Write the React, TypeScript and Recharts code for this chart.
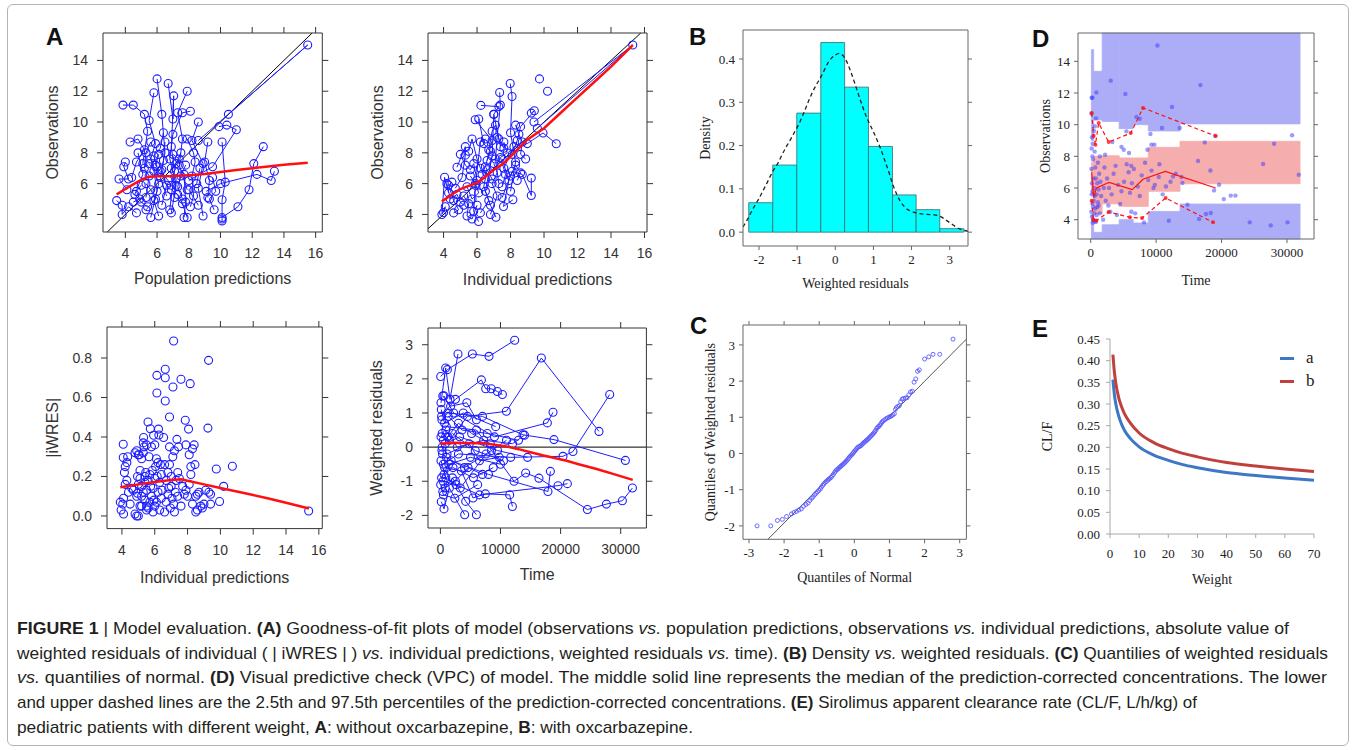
import React from 'react';
import { ComposedChart, Scatter, Line, XAxis, YAxis, ReferenceLine, ReferenceArea } from 'recharts';

const SANS = '"Liberation Sans", Arial, Helvetica, sans-serif';
const SERIF = '"Liberation Serif", "Times New Roman", serif';
const BLUE = '#1c1cff';
const RED = '#ff1010';

// ---------- A (top-left): observations vs population predictions, one polyline per subject
const predObsSubjects: number[][][] = [
  [[8.6, 8.8], [15.5, 15.0], [10.5, 10.5]],
  [[6.0, 12.8], [6.3, 10.5], [6.5, 8.0], [6.2, 6.4], [6.6, 5.2]],
  [[6.7, 12.5], [7.0, 10.2], [7.05, 11.7], [6.9, 8.4], [7.1, 6.8], [6.8, 4.3]],
  [[7.9, 12.0], [7.3, 10.6], [7.6, 8.9], [7.4, 7.2], [7.9, 5.6]],
  [[5.8, 11.9], [5.5, 10.1], [5.9, 8.6], [5.6, 7.6], [6.1, 6.0], [5.6, 3.8]],
  [[3.85, 11.1], [4.5, 11.1], [5.2, 10.5], [5.4, 9.4], [5.1, 7.3]],
  [[8.1, 10.7], [7.6, 10.6], [7.0, 9.2], [6.8, 7.6], [7.2, 5.9], [6.9, 4.1]],
  [[8.6, 10.0], [8.2, 8.8], [8.9, 7.3], [8.6, 5.7], [8.9, 3.9]],
  [[9.9, 9.7], [10.4, 9.8], [11.0, 9.5], [9.5, 7.1], [8.0, 6.2]],
  [[10.1, 8.7], [10.3, 6.1], [10.1, 4.95], [10.1, 3.7], [10.1, 3.58]],
  [[12.7, 8.4], [12.1, 7.3], [11.8, 5.6], [11.1, 4.5], [10.1, 3.8]],
  [[13.4, 6.8], [13.2, 6.2], [12.3, 6.6], [10.0, 6.0], [9.1, 5.5]],
  [[4.3, 8.7], [4.8, 8.9], [5.2, 8.2], [4.7, 7.4], [4.4, 6.4]],
  [[4.0, 7.4], [3.9, 7.1], [4.2, 6.3], [3.6, 6.3], [4.1, 5.6]],
  [[3.45, 4.9], [3.8, 4.6], [3.8, 4.0], [4.2, 4.5], [4.7, 4.1]],
  [[4.8, 8.0], [5.1, 6.6], [4.6, 5.3], [5.0, 4.8], [5.4, 4.5]],
  [[5.5, 7.3], [5.8, 6.8], [6.0, 5.5], [5.8, 4.9], [6.1, 3.9]],
  [[6.5, 8.7], [6.4, 7.5], [6.3, 6.9], [6.6, 5.9], [6.3, 4.6]],
  [[7.5, 8.0], [7.2, 7.3], [7.7, 6.6], [7.8, 4.8], [7.7, 3.8]],
  [[7.9, 8.9], [8.3, 8.0], [8.4, 7.4], [8.2, 6.5], [8.3, 5.2], [8.1, 4.5]],
  [[9.2, 8.7], [9.0, 7.4], [9.3, 6.2], [9.2, 5.1]],
  [[5.3, 6.0], [5.6, 5.6], [5.9, 5.0], [5.3, 4.3]],
  [[6.9, 5.6], [7.3, 5.3], [7.6, 4.7], [7.9, 3.8]],
  [[6.1, 7.9], [5.9, 7.2], [6.2, 6.8], [6.7, 6.2], [6.9, 5.9]],
  [[5.0, 5.9], [4.7, 5.5], [4.9, 5.0], [4.5, 4.8]],
  [[7.0, 7.9], [7.4, 7.6], [6.9, 7.0], [7.2, 6.3], [7.1, 5.1]],
  [[8.7, 7.0], [8.5, 6.0], [8.0, 5.6], [8.6, 4.6]],
  [[9.5, 6.4], [9.7, 5.5], [9.3, 5.0], [9.6, 4.3]],
  [[6.4, 9.3], [6.2, 8.3], [5.8, 7.8], [6.0, 7.1]],
  [[5.6, 8.7], [5.3, 8.0], [5.2, 7.0], [5.5, 6.5], [5.3, 5.1]],
  [[7.8, 7.2], [7.5, 6.5], [7.3, 5.8], [7.6, 5.0]],
];
const predObsLoess = [[3.45, 5.3], [4.0, 5.65], [4.5, 5.95], [5.0, 6.25], [5.5, 6.45], [6, 6.48], [7, 6.5], [8, 6.55], [9, 6.62], [10, 6.75], [11, 6.88], [12, 7.0], [13, 7.12], [14, 7.22], [15.5, 7.36]];

// ---------- A (top-middle): observations vs individual predictions
const ipredObsSubjects: number[][][] = [
  [[9.4, 10.0], [15.3, 15.0], [9.6, 9.6]],
  [[9.73, 12.8]],
  [[10.21, 12.0]],
  [[7.98, 12.5], [8.09, 11.66], [8.0, 9.3], [8.3, 7.4], [8.0, 5.5]],
  [[7.35, 11.92], [7.39, 11.1], [7.2, 9.0], [7.1, 7.6], [7.3, 6.0]],
  [[6.23, 11.08], [7.3, 11.0], [7.0, 10.5], [7.4, 8.4]],
  [[5.89, 10.15], [6.9, 8.8], [6.5, 7.1], [6.9, 6.3]],
  [[9.24, 10.58], [9.42, 10.73], [8.6, 9.7], [8.4, 8.8], [8.1, 7.9]],
  [[10.73, 8.59], [9.94, 9.29], [9.0, 8.6], [8.2, 8.4], [7.6, 7.0]],
  [[9.24, 6.36], [9.24, 5.23], [8.7, 6.6], [8.1, 6.8], [7.5, 5.1]],
  [[8.14, 4.95], [7.58, 4.52], [7.9, 6.2], [7.5, 7.6]],
  [[7.13, 3.82], [6.8, 4.6], [6.5, 5.5], [6.9, 7.8], [7.0, 10.5]],
  [[6.09, 3.54], [5.8, 4.2], [5.9, 5.9], [6.2, 8.7], [6.5, 8.9]],
  [[4.0, 4.13], [4.1, 4.5], [3.9, 4.0], [4.06, 6.41], [4.3, 5.4]],
  [[4.8, 7.06], [5.3, 8.4], [5.3, 7.85], [5.1, 6.4], [4.7, 5.7]],
  [[4.5, 6.1], [4.3, 5.9], [4.6, 4.9], [4.9, 4.3], [4.6, 4.1]],
  [[5.2, 5.2], [5.5, 4.7], [5.4, 3.9], [5.7, 3.7], [6.0, 4.6]],
  [[5.6, 6.5], [5.9, 6.0], [6.1, 5.4], [5.7, 5.0], [5.4, 5.8]],
  [[6.3, 6.6], [6.6, 6.9], [6.4, 5.8], [6.7, 4.9], [6.2, 4.1]],
  [[7.0, 7.3], [7.2, 6.7], [6.9, 6.0], [7.2, 5.2], [6.8, 4.0]],
  [[7.6, 8.7], [7.8, 8.0], [7.4, 7.7], [7.7, 6.6], [7.5, 5.8]],
  [[8.3, 9.8], [8.5, 9.2], [8.7, 8.7], [8.6, 7.9], [8.9, 7.6]],
  [[5.0, 7.9], [5.3, 7.2], [5.6, 6.9], [5.8, 7.3], [6.0, 6.2]],
  [[5.5, 8.1], [5.7, 8.9], [6.0, 7.6], [6.2, 7.0], [6.5, 6.3]],
  [[4.2, 6.0], [4.4, 5.0], [4.8, 5.3], [5.0, 4.8], [5.2, 4.6]],
  [[6.7, 8.2], [6.9, 9.4], [7.1, 9.8], [7.3, 8.9], [7.6, 8.3]],
  [[8.4, 6.2], [8.6, 6.7], [8.3, 7.2], [8.0, 6.5]],
  [[6.1, 10.2], [6.4, 8.6], [6.8, 8.1], [6.6, 7.5]],
];
const ipredObsLoess = [[3.9, 4.85], [4.5, 5.3], [5.0, 5.65], [5.5, 5.85], [6.0, 6.05], [6.5, 6.45], [7.0, 6.9], [7.5, 7.25], [8.0, 7.75], [8.5, 8.3], [9.0, 8.85], [10, 9.6], [11, 10.6], [12, 11.6], [13, 12.6], [14, 13.6], [15.3, 15.0]];

// ---------- A (bottom-left): |iWRES| vs individual predictions
const iwresPoints = [
  [3.9, 0.07], [3.95, 0.03], [4.1, 0.01], [4.05, 0.06], [4.1, 0.09], [4.2, 0.16], [4.15, 0.22], [4.2, 0.25], [4.3, 0.27], [4.35, 0.3], [4.08, 0.296], [4.08, 0.363], [4.4, 0.12], [4.5, 0.06], [4.3, 0.18], [4.6, 0.14],
  [4.7, 0.13], [4.8, 0.01], [4.9, 0.0], [4.9, 0.1], [4.95, 0.115], [4.8, 0.32], [4.9, 0.33], [5.0, 0.31], [5.0, 0.0], [5.05, 0.31], [5.1, 0.19], [5.1, 0.23], [5.2, 0.15], [5.2, 0.05], [5.2, 0.29], [5.3, 0.32], [5.3, 0.37], [5.32, 0.397], [5.35, 0.35], [5.4, 0.2], [5.4, 0.17], [5.4, 0.08], [5.5, 0.13], [5.5, 0.05], [5.5, 0.36], [5.5, 0.03], [5.45, 0.22], [5.3, 0.12], [5.2, 0.1], [5.0, 0.16], [5.1, 0.05], [4.95, 0.2],
  [5.59, 0.476], [5.73, 0.442], [5.6, 0.04], [5.7, 0.07], [5.6, 0.18], [5.7, 0.21], [5.8, 0.35], [5.8, 0.1], [5.9, 0.14], [5.9, 0.02], [5.93, 0.409], [6.0, 0.05], [6.0, 0.19], [6.05, 0.25], [6.1, 0.29], [6.1, 0.07], [6.13, 0.712], [6.13, 0.623], [6.2, 0.27], [6.23, 0.44], [6.25, 0.41], [6.2, 0.12], [6.3, 0.17], [6.3, 0.03], [6.35, 0.26], [6.4, 0.21], [6.4, 0.09], [6.45, 0.13], [5.65, 0.3], [5.85, 0.23], [6.0, 0.36], [5.75, 0.15], [6.15, 0.2], [5.95, 0.08],
  [6.54, 0.397], [6.64, 0.743], [6.64, 0.7], [6.64, 0.582], [6.6, 0.26], [6.6, 0.02], [6.7, 0.07], [6.7, 0.18], [6.8, 0.22], [6.8, 0.11], [6.9, 0.501], [6.9, 0.35], [6.9, 0.26], [6.95, 0.04], [7.0, 0.15], [7.0, 0.2], [7.05, 0.09], [7.11, 0.653], [7.15, 0.886], [7.1, 0.3], [7.2, 0.33], [7.2, 0.02], [7.25, 0.12], [7.3, 0.18], [7.35, 0.388], [7.4, 0.22], [7.4, 0.1], [7.45, 0.35], [6.85, 0.14], [7.15, 0.06],
  [7.6, 0.692], [7.5, 0.19], [7.6, 0.05], [7.7, 0.15], [7.8, 0.11], [7.86, 0.485], [7.9, 0.36], [8.0, 0.1], [8.06, 0.44], [8.1, 0.31], [8.16, 0.67], [8.2, 0.25], [8.2, 0.21], [8.3, 0.06], [8.3, 0.34], [8.4, 0.36], [8.45, 0.26], [8.5, 0.1], [8.5, 0.02], [8.1, 0.16], [7.9, 0.13],
  [8.6, 0.03], [8.6, 0.11], [8.7, 0.12], [8.8, 0.05], [8.9, 0.04], [9.0, 0.06], [9.1, 0.13], [9.24, 0.445], [9.28, 0.788], [9.3, 0.12], [9.4, 0.06], [9.4, 0.11], [9.75, 0.238], [9.95, 0.073], [10.2, 0.15], [10.73, 0.252], [15.38, 0.025],
];
const iwresLoess = [[3.9, 0.145], [5, 0.16], [6, 0.172], [7, 0.182], [7.6, 0.186], [8, 0.178], [9, 0.16], [10, 0.142], [11, 0.124], [12, 0.106], [13, 0.087], [14, 0.067], [15.4, 0.038]];

// ---------- A (bottom-middle): weighted residuals vs time
const wresTimeSubjects: number[][][] = [
  [[50, 2.07], [1160, 2.27], [5320, 2.73], [8090, 2.66], [12360, 3.13]],
  [[100, 1.3], [880, 2.32], [1600, 1.4], [2930, 2.73]],
  [[200, 0.9], [2500, 1.4], [6820, 1.97], [7540, 1.71], [8460, 1.71], [9480, 1.63], [10320, 1.54]],
  [[300, 0.4], [1500, 0.2], [4500, 0.9], [10980, 1.05], [16800, 2.61], [26390, 0.46]],
  [[500, -0.5], [3000, -0.2], [11700, -0.3], [20400, -0.27], [22060, -0.13], [28170, 1.54]],
  [[150, -1.6], [600, -1.81], [1500, -1.2], [4040, -1.98]],
  [[400, -1.3], [2000, -0.9], [4210, -1.59], [5990, -1.98]],
  [[700, -0.6], [3500, -0.7], [5430, -1.49], [7490, -1.37], [11530, -1.4], [11980, -1.74]],
  [[100, 0.3], [1000, 0.6], [6000, 0.5], [12250, -1.0], [14190, -0.76], [16400, -0.91], [24460, -1.83], [27620, -1.67], [30280, -1.57], [31950, -1.2]],
  [[250, 0.8], [1200, 1.0], [7000, 0.9], [13740, 0.36], [18900, 0.22], [30780, -0.39]],
  [[600, 1.5], [2200, 1.0], [9000, 0.3], [17800, 0.71], [18740, 1.02]],
  [[350, -0.2], [1800, -0.4], [8000, -0.8], [17900, -1.3], [18300, -0.71]],
  [[450, -1.0], [2600, -1.1], [6500, -1.4], [19570, -1.13], [21130, -1.07]],
  [[800, 0.1], [3200, 0.3], [9500, -0.1], [14500, -0.3]],
  [[200, -0.9], [1400, -0.5], [5000, -0.3], [10000, -0.5]],
  [[900, 0.5], [2800, 0.0], [7200, 0.2], [12000, 0.1], [14000, 0.35]],
  [[150, 1.1], [700, 0.7], [3800, 1.0], [9200, 0.6]],
  [[1000, -0.3], [4000, -0.6], [8500, -0.1], [11000, 0.2]],
  [[50, -1.1], [500, -1.4], [2400, -1.5], [6200, -1.1]],
  [[300, 0.0], [1100, -0.2], [4800, 0.1], [6500, -0.4], [9800, -0.3]],
  [[600, -0.8], [2100, -0.6], [5500, -0.9], [8800, -0.6]],
  [[1300, 0.9], [3600, 0.5], [7800, 0.4], [13000, 0.2]],
  [[400, 1.5], [1700, 1.2], [4400, 1.3], [6000, 0.8]],
  [[100, -0.4], [900, -0.9], [3300, -1.2], [7600, -0.2]],
  [[500, 0.2], [2000, 0.4], [5800, -0.1], [10500, -0.4]],
  [[250, -0.1], [1200, 0.3], [3000, 0.7], [5200, 0.4], [8300, 0.1]],
  [[800, -1.2], [2500, -1.0], [4600, -0.6], [7000, -0.8]],
];
const wresTimeLoess = [[0, 0.1], [2000, 0.13], [4000, 0.12], [6000, 0.11], [7000, 0.12], [9000, 0.07], [11000, 0.02], [13000, -0.06], [15000, -0.15], [17000, -0.24], [19000, -0.32], [21000, -0.4], [23000, -0.5], [26000, -0.64], [29000, -0.8], [32000, -0.96]];

// ---------- B: histogram of weighted residuals + density
const histEdges = [-2.27, -1.64, -1.01, -0.38, 0.245, 0.87, 1.5, 2.12, 2.74, 3.37];
const histDensity = [0.068, 0.155, 0.275, 0.438, 0.335, 0.198, 0.086, 0.052, 0.008];
const kdeCurve = [
  [-2.42, 0.012], [-2.3, 0.03], [-2.2, 0.047], [-2.1, 0.063], [-2.0, 0.078], [-1.9, 0.095], [-1.8, 0.112], [-1.7, 0.13], [-1.6, 0.146], [-1.5, 0.16], [-1.4, 0.178],
  [-1.3, 0.195], [-1.2, 0.21], [-1.1, 0.226], [-1.0, 0.242], [-0.9, 0.26], [-0.8, 0.281], [-0.7, 0.303], [-0.6, 0.323], [-0.5, 0.34], [-0.4, 0.355], [-0.3, 0.372],
  [-0.2, 0.39], [-0.1, 0.402], [0.0, 0.409], [0.1, 0.413], [0.2, 0.408], [0.3, 0.394], [0.4, 0.372], [0.5, 0.347], [0.6, 0.32], [0.7, 0.294], [0.8, 0.27],
  [0.9, 0.25], [1.0, 0.232], [1.1, 0.212], [1.2, 0.19], [1.3, 0.165], [1.4, 0.14], [1.5, 0.112], [1.6, 0.09], [1.7, 0.072], [1.8, 0.06], [1.9, 0.052],
  [2.0, 0.048], [2.1, 0.045], [2.2, 0.043], [2.4, 0.041], [2.6, 0.04], [2.7, 0.038], [2.8, 0.034], [2.9, 0.028], [3.0, 0.022], [3.1, 0.016], [3.2, 0.01], [3.3, 0.006], [3.48, 0.002],
];

// ---------- C: normal QQ plot
const qqPoints = [
  [-2.77, -2.0], [-2.38, -2.0], [-2.19, -1.85], [-2.05, -1.82], [-1.93, -1.74], [-1.79, -1.67], [-1.72, -1.63], [-1.65, -1.6], [-1.58, -1.56], [-1.51, -1.53], [-1.45, -1.46],
  [-1.38, -1.41], [-1.32, -1.37], [-1.27, -1.3], [-1.22, -1.24], [-1.18, -1.2], [-1.13, -1.14], [-1.09, -1.1], [-1.05, -1.06], [-1.01, -1.02], [-0.97, -0.98], [-0.94, -0.93],
  [-0.9, -0.88], [-0.87, -0.84], [-0.83, -0.8], [-0.8, -0.77], [-0.76, -0.74], [-0.73, -0.71], [-0.7, -0.69], [-0.66, -0.66], [-0.63, -0.62], [-0.6, -0.58], [-0.56, -0.52],
  [-0.53, -0.48], [-0.5, -0.45], [-0.47, -0.43], [-0.44, -0.4], [-0.41, -0.37], [-0.38, -0.35], [-0.35, -0.32], [-0.32, -0.3], [-0.29, -0.27], [-0.26, -0.24], [-0.23, -0.21],
  [-0.2, -0.18], [-0.17, -0.14], [-0.14, -0.1], [-0.11, -0.07], [-0.08, -0.04], [-0.05, -0.01], [-0.02, 0.03], [0.01, 0.07], [0.04, 0.1], [0.07, 0.14], [0.1, 0.17],
  [0.13, 0.19], [0.16, 0.2], [0.19, 0.22], [0.22, 0.25], [0.25, 0.28], [0.28, 0.31], [0.31, 0.33], [0.34, 0.36], [0.37, 0.38], [0.4, 0.41], [0.43, 0.44], [0.46, 0.47],
  [0.49, 0.5], [0.52, 0.53], [0.55, 0.56], [0.58, 0.6], [0.61, 0.64], [0.64, 0.7], [0.67, 0.73], [0.7, 0.75], [0.73, 0.79], [0.76, 0.83], [0.79, 0.87], [0.82, 0.9],
  [0.86, 0.93], [0.9, 0.96], [0.94, 0.98], [0.98, 1.0], [1.02, 1.02], [1.06, 1.04], [1.1, 1.07], [1.14, 1.1], [1.17, 1.22], [1.2, 1.27], [1.24, 1.3], [1.28, 1.32],
  [1.32, 1.43], [1.36, 1.5], [1.4, 1.52], [1.45, 1.53], [1.5, 1.54], [1.55, 1.62], [1.6, 1.7], [1.65, 1.72], [1.7, 1.97], [1.75, 2.06], [1.8, 2.27], [1.85, 2.31],
  [2.0, 2.61], [2.12, 2.67], [2.24, 2.74], [2.43, 2.74], [2.81, 3.16],
];
const qqLine = [[-2.46, -2.37], [3.19, 3.16]];

// ---------- D: visual predictive check
const vpcBinEdges = [100, 450, 1750, 4350, 6500, 8800, 13650, 32000];
const vpcUpperPI = [[9.0, 14.74], [10.3, 13.37], [10.2, 15.79], [9.75, 15.79], [10.0, 15.79], [9.6, 15.79], [10.05, 15.79]];
const vpcMedianPI = [[5.6, 7.6], [4.4, 8.0], [5.0, 8.04], [4.84, 7.9], [4.84, 7.9], [5.79, 8.57], [6.27, 8.95]];
const vpcLowerPI = [[2.78, 4.3], [2.78, 3.2], [2.78, 3.68], [2.78, 4.0], [2.78, 3.79], [2.78, 4.52], [2.78, 4.99]];
const vpcObs = [
  [150, 11.7], [260, 11.7], [100, 10.7], [200, 9.2], [300, 8.8], [150, 8.5], [250, 8.0], [350, 7.8], [100, 7.2], [400, 6.6], [200, 6.3], [500, 6.0], [300, 5.8], [150, 5.6],
  [600, 5.5], [450, 5.2], [250, 5.0], [350, 4.8], [700, 4.7], [100, 4.5], [550, 4.4], [200, 4.2], [400, 4.0], [650, 3.9], [300, 3.8], [800, 3.85], [900, 4.3], [1000, 4.8],
  [1100, 5.1], [900, 5.6], [1200, 5.9], [1000, 6.3], [800, 6.6], [1300, 6.9], [700, 7.3], [1100, 7.6], [600, 8.3], [1400, 8.0], [870, 12.04], [1500, 6.4], [1600, 5.5],
  [1400, 4.4], [1200, 4.9], [500, 9.6], [800, 10.4], [650, 9.9],
  [3060, 12.78], [5300, 11.94], [2100, 7.3], [2500, 6.6], [2800, 6.0], [3200, 5.6], [3500, 6.9], [3800, 7.4], [4200, 6.2], [2300, 5.2], [2700, 4.9], [3000, 4.5], [4500, 5.0],
  [4700, 5.8], [5100, 6.4], [5460, 9.58], [5050, 8.42], [5860, 8.21], [5500, 7.5], [5800, 7.0], [6000, 5.7], [6300, 6.3], [6600, 7.2], [6990, 10.49], [7490, 10.37], [6800, 4.4],
  [7200, 6.1], [7500, 5.5], [7800, 6.8], [8150, 3.83], [8300, 7.6], [8670, 8.42], [9130, 9.41], [9280, 8.74], [9740, 8.74], [8800, 6.5], [9300, 7.1], [9600, 6.0], [10200, 15.0],
  [10900, 9.79], [10400, 6.7], [11000, 5.6], [11500, 6.1], [11930, 3.94], [12430, 11.12], [12580, 6.73], [12200, 6.4], [13000, 6.9], [13610, 9.79], [13870, 6.7], [2000, 6.0],
  [1900, 4.0], [4000, 4.3], [6200, 4.5], [3300, 8.9], [4700, 8.6], [6200, 7.4], [9800, 6.2], [10500, 7.5], [2200, 8.1],
  [14020, 6.32], [14790, 4.95], [16410, 7.71], [16560, 4.04], [16770, 12.5], [17430, 8.88], [17620, 4.36], [18300, 7.11], [18350, 4.42], [18860, 5.85], [19620, 6.21], [19000, 9.3],
  [20340, 5.3], [21400, 5.52], [22120, 5.52], [24310, 3.83], [26350, 7.52], [27520, 3.64], [28030, 8.8], [30080, 3.83], [30780, 9.33], [31800, 6.84],
];
const vpcMedian = [[150, 7.0], [450, 5.4], [870, 6.0], [2800, 6.35], [6350, 5.9], [8000, 6.55], [11400, 7.05], [19100, 6.0]];
const vpcP975 = [[150, 10.74], [450, 9.3], [720, 8.74], [1220, 10.1], [2750, 8.9], [6120, 9.47], [8000, 11.06], [19110, 9.28]];
const vpcP025 = [[150, 5.2], [400, 4.0], [870, 3.95], [2750, 4.49], [6000, 4.15], [7850, 4.1], [11450, 5.37], [18700, 3.83]];

// ---------- E: CL/F vs weight
const weights = [1, 1.5, 2, 3, 4, 5, 7, 10, 15, 20, 25, 30, 40, 50, 60, 70];
const clfWithout = [0.356, 0.322, 0.3, 0.272, 0.253, 0.239, 0.22, 0.201, 0.182, 0.17, 0.16, 0.153, 0.142, 0.135, 0.129, 0.124];
const clfWith = [0.414, 0.374, 0.348, 0.314, 0.293, 0.277, 0.256, 0.233, 0.211, 0.197, 0.186, 0.178, 0.165, 0.157, 0.15, 0.144];

const pts = (a: number[][]) => a.map(([x, y]) => ({ x, y }));
const ring = (r: number, color: string, w = 1.1) => (p: any) => <circle cx={p.cx} cy={p.cy} r={r} fill="none" stroke={color} strokeWidth={w} />;
const dot = (r: number, color: string, op = 1) => (p: any) => <circle cx={p.cx} cy={p.cy} r={r} fill={color} fillOpacity={op} />;
const noShape = () => <g />;

function Frame({ box, xDomain, yDomain, xTicks, yTicks, xFmt, yFmt, xLabel, yLabel, serif, yLabDx, xLabDy, topTicks = true, children }: any) {
  const [x0, y0, x1, y1] = box;
  const LW = 80, RW = 20, TH = 20, BH = 70;
  const font = serif ? SERIF : SANS;
  const tickFs = serif ? 13 : 14;
  const labFs = serif ? 14 : 16;
  const tickLen = serif ? 4 : 6;
  const ink = serif ? '#222' : '#333';
  const frame = serif ? '#666' : '#333';
  const tickStyle = { fill: ink, fontSize: tickFs, fontFamily: font };
  const blank = () => '';
  return (
    <div style={{ position: 'absolute', left: x0 - LW, top: y0 - TH }}>
      <ComposedChart width={x1 - x0 + LW + RW} height={y1 - y0 + TH + BH} margin={{ top: 0, right: 0, bottom: 0, left: 0 }}>
        <XAxis type="number" dataKey="x" domain={xDomain} allowDataOverflow ticks={xTicks} interval={0} tickFormatter={xFmt}
          height={BH} tickSize={tickLen} tickMargin={serif ? 4.5 : 10} stroke={frame} tick={tickStyle}
          label={{ value: xLabel, position: 'insideBottom', offset: BH - xLabDy - 0.35 * labFs, fill: ink, fontSize: labFs, fontFamily: font }} />
        <XAxis xAxisId="top" orientation="top" type="number" dataKey="x" domain={xDomain} allowDataOverflow ticks={xTicks} interval={0}
          tickFormatter={blank} height={TH} tickSize={topTicks ? tickLen : 0} tickLine={topTicks} stroke={frame} />
        <YAxis type="number" dataKey="y" domain={yDomain} allowDataOverflow ticks={yTicks} interval={0} tickFormatter={yFmt}
          width={LW} tickSize={tickLen} tickMargin={serif ? 4 : 9} stroke={frame} tick={tickStyle}
          label={{ value: yLabel, angle: -90, position: 'insideLeft', offset: LW - yLabDx, fill: ink, fontSize: labFs, fontFamily: font, style: { textAnchor: 'middle' } }} />
        <YAxis yAxisId="right" orientation="right" type="number" dataKey="y" domain={yDomain} allowDataOverflow ticks={yTicks} interval={0}
          tickFormatter={blank} width={RW} tickSize={tickLen} stroke={frame} />
        <Scatter xAxisId="top" yAxisId="right" data={[{ x: xDomain[0], y: yDomain[0] }]} shape={noShape} isAnimationActive={false} />
        {children}
      </ComposedChart>
    </div>
  );
}

const subjectSeries = (subjects: number[][][]) =>
  subjects.map((s, i) => (
    <Scatter key={'s' + i} data={pts(s)} line={{ stroke: BLUE, strokeWidth: 1 }} shape={ring(4, BLUE)} isAnimationActive={false} />
  ));

const fmt1 = (v: number) => v.toFixed(1);
const panelLetter = (t: string, left: number, top: number) => (
  <div style={{ position: 'absolute', left, top, fontFamily: SANS, fontWeight: 700, fontSize: 24, lineHeight: 1, color: '#111' }}>{t}</div>
);

export default function App() {
  return (
    <div style={{ position: 'absolute', left: 0, top: 0, width: 1355, height: 750, background: '#fff', overflow: 'hidden' }}>
      <div style={{ position: 'absolute', left: 7, top: 4, width: 1340, height: 740, border: '1px solid #b4b4b4', borderRadius: 6 }} />

      {/* A: goodness-of-fit plots */}
      <Frame box={[102.7, 33.3, 322, 232.3]} xDomain={[2.59, 16.42]} yDomain={[2.86, 15.78]} xTicks={[4, 6, 8, 10, 12, 14, 16]} yTicks={[4, 6, 8, 10, 12, 14]}
        xLabel="Population predictions" yLabel="Observations" yLabDx={51} xLabDy={46.5}>
        <ReferenceLine segment={[{ x: 2.86, y: 2.86 }, { x: 15.78, y: 15.78 }]} stroke="#000" strokeWidth={1} />
        {subjectSeries(predObsSubjects)}
        <Scatter data={pts(predObsLoess)} line={{ stroke: RED, strokeWidth: 2.5 }} shape={noShape} isAnimationActive={false} />
      </Frame>
      <Frame box={[427.7, 33.3, 646.7, 232.3]} xDomain={[3.07, 16.15]} yDomain={[2.86, 15.78]} xTicks={[4, 6, 8, 10, 12, 14, 16]} yTicks={[4, 6, 8, 10, 12, 14]}
        xLabel="Individual predictions" yLabel="Observations" yLabDx={51} xLabDy={47.5}>
        <ReferenceLine segment={[{ x: 3.07, y: 3.07 }, { x: 15.78, y: 15.78 }]} stroke="#000" strokeWidth={1} />
        {subjectSeries(ipredObsSubjects)}
        <Scatter data={pts(ipredObsLoess)} line={{ stroke: RED, strokeWidth: 2.5 }} shape={noShape} isAnimationActive={false} />
      </Frame>
      <Frame box={[106.7, 326.7, 322, 528.3]} xDomain={[3.09, 16.21]} yDomain={[-0.064, 0.957]} xTicks={[4, 6, 8, 10, 12, 14, 16]} yTicks={[0, 0.2, 0.4, 0.6, 0.8]} yFmt={fmt1}
        xLabel="Individual predictions" yLabel="|iWRES|" yLabDx={55} xLabDy={48.4}>
        <Scatter data={pts(iwresPoints)} shape={ring(4, BLUE)} isAnimationActive={false} />
        <Scatter data={pts(iwresLoess)} line={{ stroke: RED, strokeWidth: 2.5 }} shape={noShape} isAnimationActive={false} />
      </Frame>
      <Frame box={[428.3, 328.3, 646.7, 528.3]} xDomain={[-2063, 34276]} yDomain={[-2.37, 3.49]} xTicks={[0, 10000, 20000, 30000]} yTicks={[-2, -1, 0, 1, 2, 3]}
        xLabel="Time" yLabel="Weighted residuals" yLabDx={51.6} xLabDy={46.7}>
        <ReferenceLine y={0} stroke="#000" strokeWidth={1} />
        {subjectSeries(wresTimeSubjects)}
        <Scatter data={pts(wresTimeLoess)} line={{ stroke: RED, strokeWidth: 2.5 }} shape={noShape} isAnimationActive={false} />
      </Frame>

      {/* B: density of weighted residuals */}
      <Frame serif box={[743.3, 30, 968.3, 246]} xDomain={[-2.42, 3.48]} yDomain={[-0.032, 0.467]} xTicks={[-2, -1, 0, 1, 2, 3]} yTicks={[0, 0.1, 0.2, 0.3, 0.4]} yFmt={fmt1}
        topTicks={false} xLabel="Weighted residuals" yLabel="Density" yLabDx={38.3} xLabDy={37.3}>
        {histDensity.map((h, i) => (
          <ReferenceArea key={'h' + i} x1={histEdges[i]} x2={histEdges[i + 1]} y1={0} y2={h} fill="#00ffff" fillOpacity={1} stroke="#3a6a6a" strokeWidth={0.8} />
        ))}
        <Line data={pts(kdeCurve)} dataKey="y" type="monotone" stroke="#222" strokeWidth={1.3} strokeDasharray="4 3" dot={false} isAnimationActive={false} />
      </Frame>

      {/* C: QQ plot */}
      <Frame serif box={[743.3, 325, 966.7, 539.3]} xDomain={[-3.17, 3.19]} yDomain={[-2.37, 3.55]} xTicks={[-3, -2, -1, 0, 1, 2, 3]} yTicks={[-2, -1, 0, 1, 2, 3]}
        xLabel="Quantiles of Normal" yLabel="Quantiles of Weighted residuals" yLabDx={33.3} xLabDy={37.4}>
        <Scatter data={pts(qqLine)} line={{ stroke: '#555', strokeWidth: 1 }} shape={noShape} isAnimationActive={false} />
        <Scatter data={pts(qqPoints)} shape={ring(2, '#5a5aff', 0.9)} isAnimationActive={false} />
      </Frame>

      {/* D: visual predictive check */}
      <Frame serif box={[1078.3, 33.3, 1314.3, 239.3]} xDomain={[-1942, 34128]} yDomain={[2.78, 15.79]} xTicks={[0, 10000, 20000, 30000]} yTicks={[4, 6, 8, 10, 12, 14]}
        topTicks={false} xLabel="Time" yLabel="Observations" yLabDx={33.3} xLabDy={40.7}>
        {vpcUpperPI.map((b, i) => (
          <ReferenceArea key={'u' + i} x1={vpcBinEdges[i]} x2={vpcBinEdges[i + 1]} y1={b[0]} y2={b[1]} fill="#acadf6" fillOpacity={1} stroke="#acadf6" strokeWidth={0.8} />
        ))}
        {vpcMedianPI.map((b, i) => (
          <ReferenceArea key={'m' + i} x1={vpcBinEdges[i]} x2={vpcBinEdges[i + 1]} y1={b[0]} y2={b[1]} fill="#f6adad" fillOpacity={1} stroke="#f6adad" strokeWidth={0.8} />
        ))}
        {vpcLowerPI.map((b, i) => (
          <ReferenceArea key={'l' + i} x1={vpcBinEdges[i]} x2={vpcBinEdges[i + 1]} y1={b[0]} y2={b[1]} fill="#acadf6" fillOpacity={1} stroke="#acadf6" strokeWidth={0.8} />
        ))}
        <Scatter data={pts(vpcObs)} shape={dot(2.2, '#3a3aff', 0.5)} isAnimationActive={false} />
        <Scatter data={pts(vpcMedian)} line={{ stroke: RED, strokeWidth: 1.2 }} shape={noShape} isAnimationActive={false} />
        <Scatter data={pts(vpcP975)} line={{ stroke: RED, strokeWidth: 1.2, strokeDasharray: '4 3' }} shape={dot(2, RED, 0.8)} isAnimationActive={false} />
        <Scatter data={pts(vpcP025)} line={{ stroke: RED, strokeWidth: 1.2, strokeDasharray: '4 3' }} shape={dot(2, RED, 0.8)} isAnimationActive={false} />
      </Frame>

      {/* E: CL/F vs weight */}
      <div style={{ position: 'absolute', left: 1030, top: 329 }}>
        <ComposedChart width={304} height={266} margin={{ top: 10, right: 20, bottom: 0, left: 0 }}>
          <XAxis type="number" dataKey="x" domain={[0, 70]} ticks={[0, 10, 20, 30, 40, 50, 60, 70]} interval={0} height={61} tickSize={4} tickMargin={11}
            stroke="#a8a8a8" tick={{ fill: '#222', fontSize: 13, fontFamily: SERIF }}
            label={{ value: 'Weight', position: 'insideBottom', offset: 11.5, fill: '#222', fontSize: 14, fontFamily: SERIF }} />
          <YAxis type="number" domain={[0, 0.45]} ticks={[0, 0.05, 0.1, 0.15, 0.2, 0.25, 0.3, 0.35, 0.4, 0.45]} interval={0} tickFormatter={(v: number) => v.toFixed(2)}
            width={80} tickSize={4} tickMargin={6} stroke="#a8a8a8" tick={{ fill: '#222', fontSize: 13, fontFamily: SERIF }}
            label={{ value: 'CL/F', angle: -90, position: 'insideLeft', offset: 16.7, fill: '#222', fontSize: 14, fontFamily: SERIF, style: { textAnchor: 'middle' } }} />
          <Line name="a" data={weights.map((w, i) => ({ x: w, y: clfWithout[i] }))} dataKey="y" type="monotone" stroke="#3d77c6" strokeWidth={3} dot={false} isAnimationActive={false} />
          <Line name="b" data={weights.map((w, i) => ({ x: w, y: clfWith[i] }))} dataKey="y" type="monotone" stroke="#c0403c" strokeWidth={3} dot={false} isAnimationActive={false} />
        </ComposedChart>
      </div>
      <div style={{ position: 'absolute', left: 1280, top: 347, fontFamily: SERIF, fontSize: 17, color: '#222' }}>
        {[['a', '#3d77c6'], ['b', '#c0403c']].map(([n, c]) => (
          <div key={n} style={{ display: 'flex', alignItems: 'center', height: 22.7 }}>
            <span style={{ display: 'inline-block', width: 14, height: 3, background: c, marginRight: 12 }} />
            <span>{n}</span>
          </div>
        ))}
      </div>

      {panelLetter('A', 46, 25)}
      {panelLetter('B', 689, 25)}
      {panelLetter('C', 690, 314)}
      {panelLetter('D', 1032, 27)}
      {panelLetter('E', 1032, 317)}

      <svg style={{ position: 'absolute', left: 0, top: 600 }} width={1355} height={150}>
        <g fontFamily={SANS} fontSize={17} fill="#231f20">
          <text x={17} y={34} textLength={1272} lengthAdjust="spacingAndGlyphs">
            <tspan fontWeight="bold">FIGURE 1</tspan> | Model evaluation. <tspan fontWeight="bold">(A)</tspan> Goodness-of-fit plots of model (observations <tspan fontStyle="italic">vs.</tspan> population predictions, observations <tspan fontStyle="italic">vs.</tspan> individual predictions, absolute value of
          </text>
          <text x={17} y={59} textLength={1311} lengthAdjust="spacingAndGlyphs">
            weighted residuals of individual ( | iWRES | ) <tspan fontStyle="italic">vs.</tspan> individual predictions, weighted residuals <tspan fontStyle="italic">vs.</tspan> time). <tspan fontWeight="bold">(B)</tspan> Density <tspan fontStyle="italic">vs.</tspan> weighted residuals. <tspan fontWeight="bold">(C)</tspan> Quantilies of weighted residuals
          </text>
          <text x={17} y={83} textLength={1310} lengthAdjust="spacingAndGlyphs">
            <tspan fontStyle="italic">vs.</tspan> quantilies of normal. <tspan fontWeight="bold">(D)</tspan> Visual predictive check (VPC) of model. The middle solid line represents the median of the prediction-corrected concentrations. The lower
          </text>
          <text x={17} y={108} textLength={1180} lengthAdjust="spacingAndGlyphs">
            and upper dashed lines are the 2.5th and 97.5th percentiles of the prediction-corrected concentrations. <tspan fontWeight="bold">(E)</tspan> Sirolimus apparent clearance rate (CL/F, L/h/kg) of
          </text>
          <text x={17} y={133} textLength={676} lengthAdjust="spacingAndGlyphs">
            pediatric patients with different weight, <tspan fontWeight="bold">A</tspan>: without oxcarbazepine, <tspan fontWeight="bold">B</tspan>: with oxcarbazepine.
          </text>
        </g>
      </svg>
    </div>
  );
}
